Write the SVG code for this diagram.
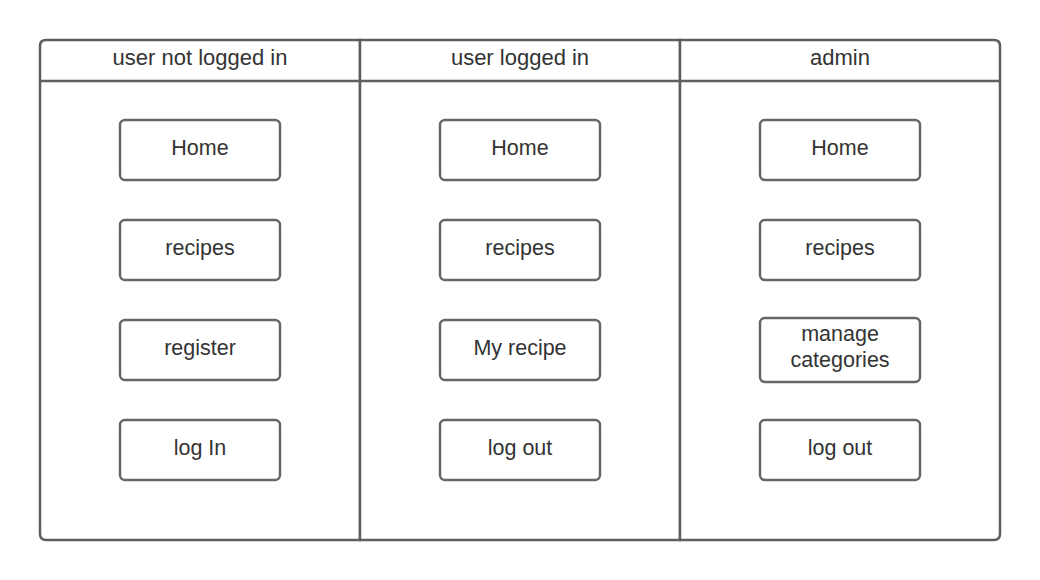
<svg xmlns="http://www.w3.org/2000/svg" width="1040" height="580" viewBox="0 0 1040 580">
<style>
.lane{fill:#fff;stroke:#5e5e5e;stroke-width:2.5}
.line{stroke:#5e5e5e;stroke-width:2.5;fill:none}
.box{fill:#fff;stroke:#666;stroke-width:2.5}
text{font-family:"Liberation Sans",Arial,sans-serif;font-size:21.5px;fill:#333;text-anchor:middle;dominant-baseline:central}
.hd{font-size:22px}
</style>
<rect width="1040" height="580" fill="#fff"/>
<g id="lanes">
<path class="lane" d="M360,40 L46,40 Q40,40 40,46 L40,534 Q40,540 46,540 L360,540 Z"/>
<rect class="lane" x="360" y="40" width="320" height="500"/>
<path class="lane" d="M680,40 L994,40 Q1000,40 1000,46 L1000,534 Q1000,540 994,540 L680,540 Z"/>
<line class="line" x1="40" y1="81" x2="1000" y2="81"/>
<text class="hd" x="200" y="57.5">user not logged in</text>
<text class="hd" x="520" y="57.5">user logged in</text>
<text class="hd" x="840" y="57.5">admin</text>
</g>
<g id="n1"><rect class="box" x="120" y="120" width="160" height="60" rx="5"/><text x="200" y="147.5">Home</text></g>
<g id="n2"><rect class="box" x="120" y="220" width="160" height="60" rx="5"/><text x="200" y="247.5">recipes</text></g>
<g id="n3"><rect class="box" x="120" y="320" width="160" height="60" rx="5"/><text x="200" y="347.5">register</text></g>
<g id="n4"><rect class="box" x="120" y="420" width="160" height="60" rx="5"/><text x="200" y="447.5">log In</text></g>
<g id="n5"><rect class="box" x="440" y="120" width="160" height="60" rx="5"/><text x="520" y="147.5">Home</text></g>
<g id="n6"><rect class="box" x="440" y="220" width="160" height="60" rx="5"/><text x="520" y="247.5">recipes</text></g>
<g id="n7"><rect class="box" x="440" y="320" width="160" height="60" rx="5"/><text x="520" y="347.5">My recipe</text></g>
<g id="n8"><rect class="box" x="440" y="420" width="160" height="60" rx="5"/><text x="520" y="447.5">log out</text></g>
<g id="n9"><rect class="box" x="760" y="120" width="160" height="60" rx="5"/><text x="840" y="147.5">Home</text></g>
<g id="n10"><rect class="box" x="760" y="220" width="160" height="60" rx="5"/><text x="840" y="247.5">recipes</text></g>
<g id="n11"><rect class="box" x="760" y="318" width="160" height="64" rx="5"/><text x="840" y="333.5">manage</text><text x="840" y="359.5">categories</text></g>
<g id="n12"><rect class="box" x="760" y="420" width="160" height="60" rx="5"/><text x="840" y="447.5">log out</text></g>
<g id="connectors"/>
</svg>
